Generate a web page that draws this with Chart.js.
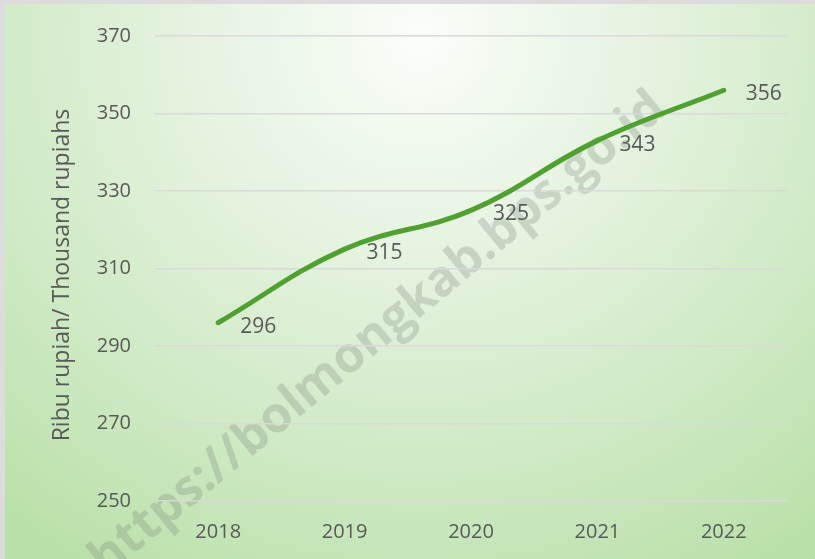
<!DOCTYPE html>
<html>
<head>
<meta charset="utf-8">
<script src="https://cdn.jsdelivr.net/npm/chart.js@4.4.1/dist/chart.umd.min.js"></script>
<style>
    html, body { margin: 0; padding: 0; background: #ffffff; }
    #wrap { width: 815px; height: 559px; }
</style>
</head>
<body>
<div id="wrap"><canvas id="chart" width="815" height="559"></canvas></div>
<script>
/* Data */
const years = ['2018', '2019', '2020', '2021', '2022'];
const values = [296, 315, 325, 343, 356];
const yTicks = [250, 270, 290, 310, 330, 350, 370];
const yTitle = 'Ribu rupiah/ Thousand rupiahs';
const watermark = 'https://bolmongkab.bps.go.id';

const FONT = "'Open Sans', 'Noto Sans', sans-serif";
const TEXT_COLOR = '#595959';

// Background: gray frame, radial green gradient, faint watermark
const backgroundPlugin = {
    id: 'background',
    beforeDraw(chart) {
        const ctx = chart.ctx;
        ctx.save();
        ctx.fillStyle = '#dcdcdc';
        ctx.fillRect(0, 0, chart.width, chart.height);

        ctx.save();
        ctx.beginPath();
        ctx.rect(5, 4, chart.width - 5, chart.height - 4);
        ctx.clip();
        ctx.translate(420, 40);
        ctx.scale(1, 0.95);
        const grad = ctx.createRadialGradient(0, 0, 0, 0, 0, 640);
        grad.addColorStop(0, '#fbfdfa');
        grad.addColorStop(0.5, '#dcefd5');
        grad.addColorStop(1, '#bbe1ab');
        ctx.fillStyle = grad;
        ctx.fillRect(-500, -100, 1000, 800);
        ctx.restore();

        // watermark
        ctx.save();
        ctx.beginPath();
        ctx.rect(5, 4, chart.width - 5, chart.height - 4);
        ctx.clip();
        ctx.translate(378, 334);
        ctx.rotate(-Math.atan2(470, 569));
        let size = 50;
        ctx.font = `bold ${size}px ${FONT}`;
        size = size * 730 / ctx.measureText(watermark).width;
        ctx.font = `bold ${size}px ${FONT}`;
        ctx.fillStyle = 'rgba(115, 125, 115, 0.26)';
        ctx.textAlign = 'center';
        ctx.textBaseline = 'middle';
        ctx.fillText(watermark, 0, 0);
        ctx.restore();
        ctx.restore();
    }
};

// Value labels to the right of each point, plus the rotated y title
const valueLabelPlugin = {
    id: 'valueLabels',
    afterDatasetsDraw(chart) {
        const ctx = chart.ctx;
        const meta = chart.getDatasetMeta(0);
        ctx.save();
        ctx.font = `21px ${FONT}`;
        ctx.fillStyle = TEXT_COLOR;
        ctx.textAlign = 'left';
        ctx.textBaseline = 'alphabetic';
        meta.data.forEach((pt, i) => {
            ctx.fillText(String(values[i]), pt.x + 22, pt.y + 10);
        });

        // y axis title
        ctx.translate(62, 275);
        ctx.rotate(-Math.PI / 2);
        ctx.font = `23px ${FONT}`;
        ctx.textAlign = 'center';
        ctx.textBaseline = 'middle';
        ctx.fillText(yTitle, 0, 0);
        ctx.restore();
    }
};

const ctx = document.getElementById('chart').getContext('2d');

new Chart(ctx, {
    type: 'line',
    data: {
        labels: years,
        datasets: [{
            data: values,
            borderColor: '#50a032',
            borderWidth: 5,
            borderCapStyle: 'round',
            tension: 0.4,
            pointRadius: 0,
            fill: false
        }]
    },
    options: {
        responsive: false,
        animation: false,
        layout: {
            padding: { top: 32, right: 28, left: 0, bottom: 0 }
        },
        plugins: {
            legend: { display: false },
            tooltip: { enabled: false }
        },
        scales: {
            x: {
                offset: true,
                grid: { display: false, drawTicks: false },
                border: { display: false },
                ticks: {
                    color: TEXT_COLOR,
                    padding: 19,
                    font: { family: FONT, size: 20 }
                },
                afterFit(scale) { scale.height = 58; }
            },
            y: {
                min: yTicks[0],
                max: yTicks[yTicks.length - 1],
                ticks: {
                    stepSize: yTicks[1] - yTicks[0],
                    color: TEXT_COLOR,
                    padding: 24,
                    font: { family: FONT, size: 20 }
                },
                grid: { color: '#d9d9d9', lineWidth: 1.5, drawTicks: false },
                border: { display: false },
                afterFit(scale) { scale.width = 155; }
            }
        }
    },
    plugins: [backgroundPlugin, valueLabelPlugin]
});
</script>
</body>
</html>
